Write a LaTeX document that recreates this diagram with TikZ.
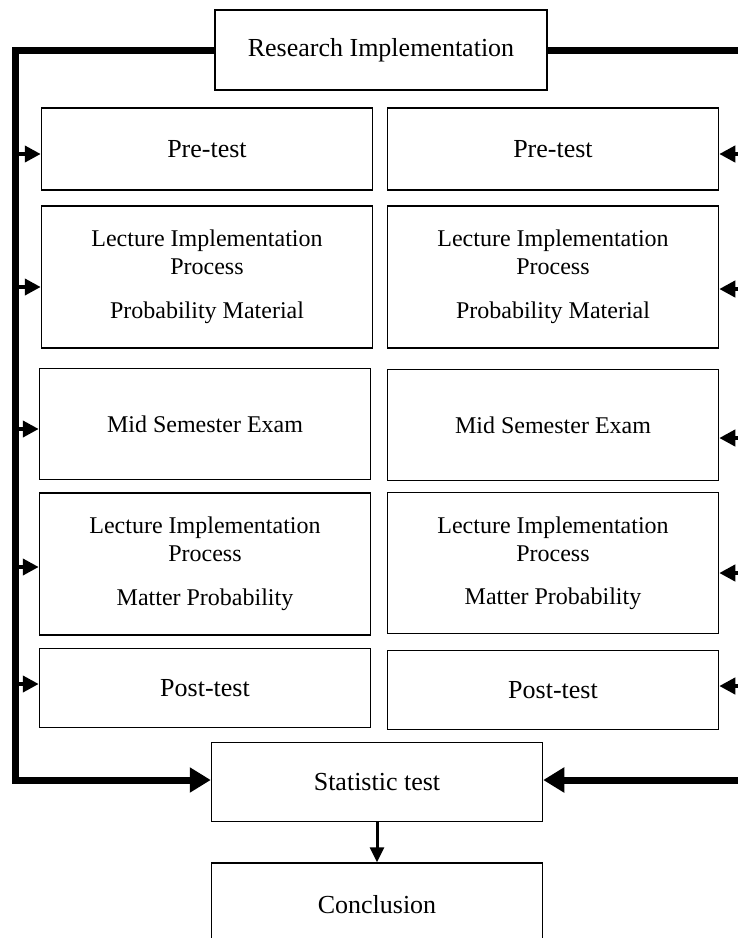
\documentclass[tikz,border=0pt]{standalone}
\usepackage{fontspec}
\setmainfont{Liberation Serif}
\usetikzlibrary{arrows.meta}
\begin{document}
\begin{tikzpicture}[x=1pt,y=-1pt,
    box/.style={draw,line width=1.5pt,inner sep=0pt,align=center,
        minimum width=331pt,font=\fontsize{26}{30}\selectfont},
    lecbox/.style={box,font=\fontsize{24}{28}\selectfont},
    spine/.style={line width=7pt,-{Triangle[length=21pt,width=24pt]}},
    feed/.style={line width=4pt,-{Triangle[length=16pt,width=16pt]}},
    down/.style={line width=3pt,-{Triangle[length=15pt,width=14pt]}}]

\def\lx{207}
\def\rx{553}

\clip (0,0) rectangle (738,938);

\node[box,minimum width=332pt,minimum height=80pt] (research) at (381,50) {Research Implementation};

\node[box,minimum height=82pt] (preL) at (\lx,149) {Pre-test};
\node[box,minimum height=82pt] (preR) at (\rx,149) {Pre-test};

\node[lecbox,minimum height=142pt] (lecL) at (\lx,277)
    {Lecture Implementation\\Process\\[16pt]Probability Material};
\node[lecbox,minimum height=142pt] (lecR) at (\rx,277)
    {Lecture Implementation\\Process\\[16pt]Probability Material};

\node[lecbox,minimum height=111pt] (midL) at (205,424) {Mid Semester Exam};
\node[lecbox,minimum height=111pt] (midR) at (\rx,425) {Mid Semester Exam};

\node[lecbox,minimum height=142pt] (lecbL) at (205,564)
    {Lecture Implementation\\Process\\[16pt]Matter Probability};
\node[lecbox,minimum height=141pt] (lecbR) at (\rx,563)
    {Lecture Implementation\\Process\\[15pt]Matter Probability};

\node[box,minimum height=79pt] (postL) at (205,688) {Post-test};
\node[box,minimum height=79pt] (postR) at (\rx,690) {Post-test};

\node[box,minimum height=79pt] (stat) at (377,782) {Statistic test};
\node[box,minimum height=84pt] (concl) at (377,905) {Conclusion};

% outer lines
\coordinate (botL) at (15,780);
\coordinate (botR) at (750,780);

\draw[spine] (research.west) -| (botL) -- (stat.west |- botL);
\draw[spine] (research.east) -| (botR) -- (stat.east |- botR);

\foreach \n/\dy in {preL/5,lecL/10,midL/5,lecbL/3,postL/-4}
    \draw[feed] ([yshift=-\dy pt]botL |- \n.west) -- ([yshift=-\dy pt]\n.west);

\foreach \n/\dy in {preR/5,lecR/12,midR/13,lecbR/10,postR/-4}
    \draw[feed] ([yshift=-\dy pt]botR |- \n.east) -- ([yshift=-\dy pt]\n.east);

\draw[down] (stat.south) -- (concl.north);

\end{tikzpicture}
\end{document}
